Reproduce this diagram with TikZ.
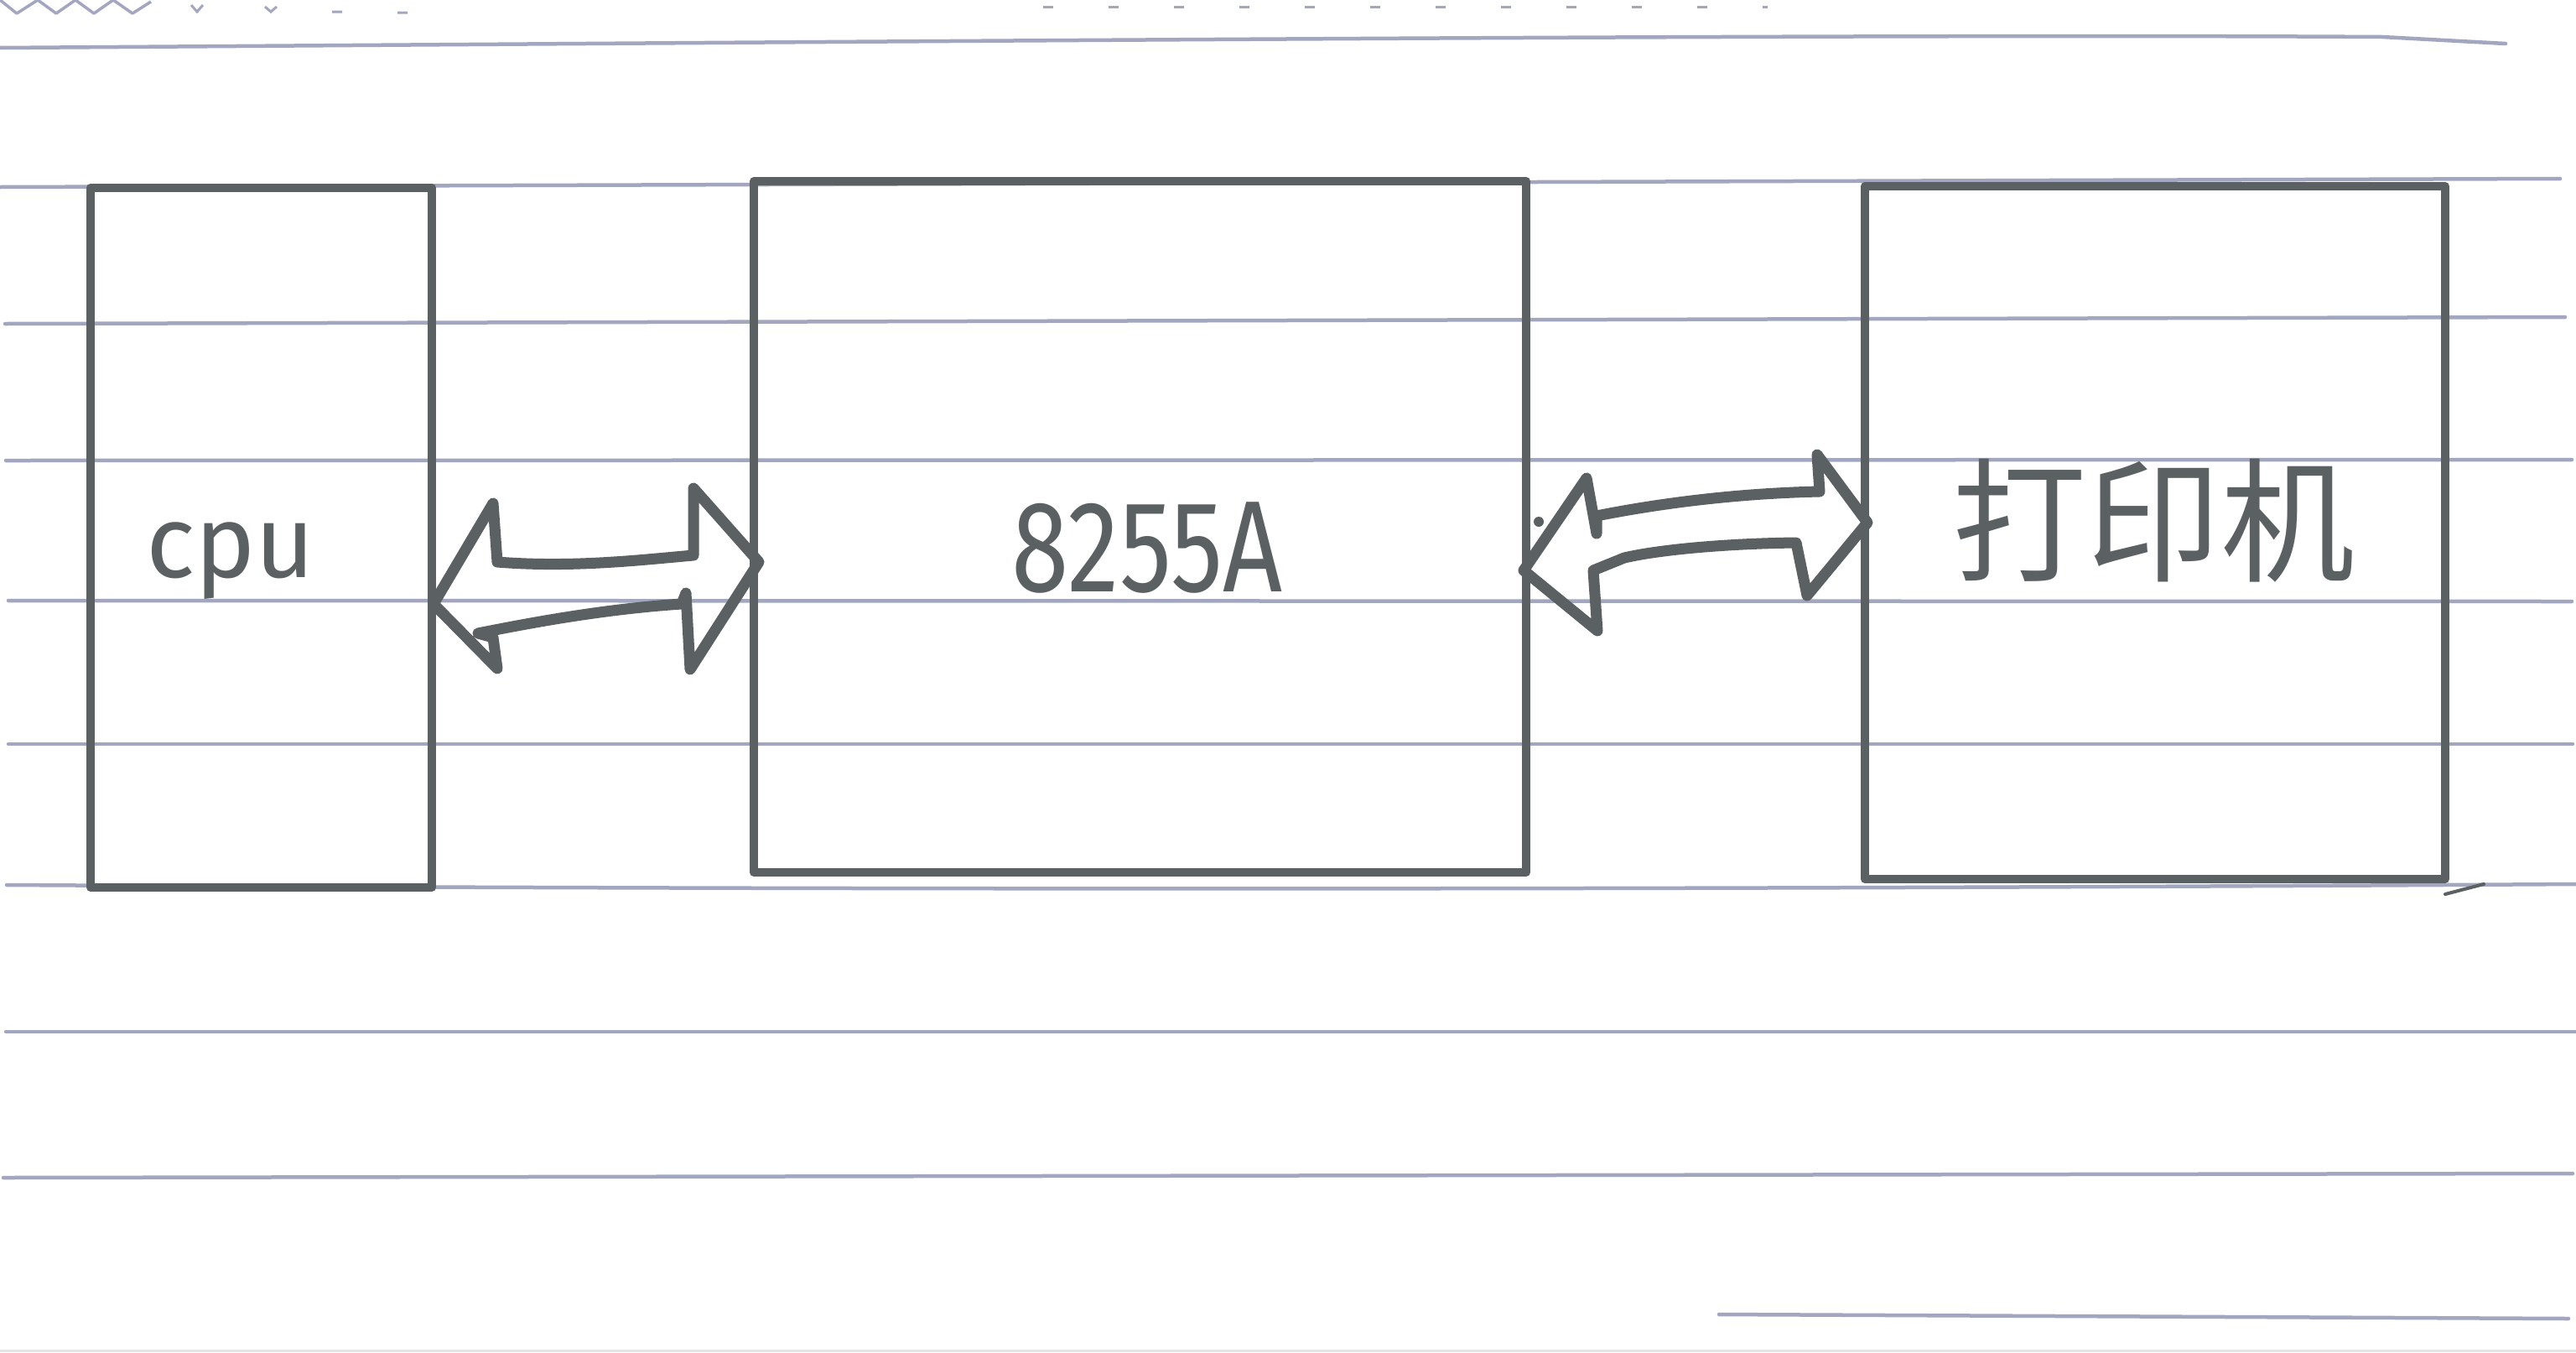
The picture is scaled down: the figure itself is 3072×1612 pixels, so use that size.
\documentclass[tikz,border=0pt]{standalone}
\usepackage{fontspec}
\usepackage{graphicx}
\setmainfont{Fira Sans}
\newfontfamily\cjk{Noto Sans CJK SC}
\usetikzlibrary{calc}
\definecolor{ink}{HTML}{5B6062}
\definecolor{rulec}{HTML}{A2A7BF}
\tikzset{
  rulel/.style={draw=rulec, line width=4.5pt, line cap=round},
  boxs/.style={draw=ink, line width=10pt, rectangle, inner sep=0pt, outer sep=0pt, line join=round},
  barrow/.style={draw=ink, line width=13pt, line join=round, line cap=round},
  lbl/.style={text=ink, inner sep=0pt},
}
\begin{document}
\begin{tikzpicture}[x=1pt,y=-1pt]
\fill[white] (0,0) rectangle (3072,1612);
\useasboundingbox (0,0) rectangle (3072,1612);
% faint marks at the top edge
\draw[rulec, line width=3.5pt, line join=round] (0,0) -- (20,16) -- (45,0) -- (67,16) -- (90,0) -- (112,16) -- (135,0) -- (158,16) -- (180,2);
\draw[rulec, line width=3pt] (228,6) -- (235,14) -- (242,6) (316,8) -- (323,14) -- (330,8) (396,14) -- (408,14) (474,15) -- (486,15);
\draw[rulec, line width=3pt, dash pattern=on 12pt off 66pt] (1244,8) -- (2108,8);
% ruled lines
\draw[rulel] (0,57) .. controls (1000,50) and (2200,40) .. (2841,44) -- (2988,52);
\draw[rulel] (0,223) -- (3053,213);
\draw[rulel] (6,386) -- (3059,378);
\draw[rulel] (7,549) -- (3067,548);
\draw[rulel] (10,716) -- (3067,717);
\draw[rulel] (10,887) -- (3068,887);
\draw[rulel] (8,1055) .. controls (1000,1061) and (2000,1061) .. (3072,1054);
\draw[rulel] (7,1230) -- (3072,1230);
\draw[rulel] (4,1404) -- (3068,1399);
\draw[rulel] (2050,1567) -- (3063,1572);
\draw[black!10, line width=3pt] (0,1610) -- (3072,1610);
% boxes
\node[boxs, minimum width=407pt, minimum height=834pt] (cpu) at (311.5,641) {};
\node[boxs, minimum width=921pt, minimum height=824pt] (ppi) at (1359.5,628) {};
\node[boxs, minimum width=692pt, minimum height=826pt] (prn) at (2570,635) {};
\draw[ink, line width=4pt, line cap=round] ($(prn.south east)+(0,18)$) -- ++(46,-12);
% arrow tips
\coordinate (a1l) at ($(cpu.east)+(2,79)$);
\coordinate (a1r) at ($(ppi.west)+(6,42)$);
\coordinate (a2l) at ($(ppi.east)+(-3,52)$);
\coordinate (a2r) at ($(prn.west)+(3,-12)$);
% block arrow CPU <-> 8255A
\draw[barrow] (a1l) -- (588,600) -- (593,670) .. controls (680,677) and (760,668) .. (827,662) -- (827,582) -- (a1r) -- (823,798) -- (818,707) -- (813,720) .. controls (720,726) and (630,743) .. (570,755) -- (588,760) -- (593,797) -- cycle;
% block arrow 8255A <-> printer
\draw[barrow] (a2l) -- (1892,570) -- (1904,636) -- (1904,615) .. controls (1990,598) and (2080,588) .. (2170,586) -- (2167,542) -- (a2r) -- (2155,710) -- (2142,647) .. controls (2060,648) and (1980,655) .. (1937,665) -- (1900,680) -- (1905,752) -- cycle;
\fill[ink] (1835,622) circle (6pt);
% labels
\node[lbl, anchor=base] (tcpu) at (275,688) {\fontsize{122}{122}\selectfont cpu};
\node[lbl, anchor=base] (t8255) at (1368,705) {\scalebox{0.8}[1]{\fontsize{155}{155}\selectfont 8255A}};
\node[lbl] (tprn) at (2568,621) {\cjk\fontsize{160}{160}\selectfont 打印机};
\end{tikzpicture}
\end{document}
